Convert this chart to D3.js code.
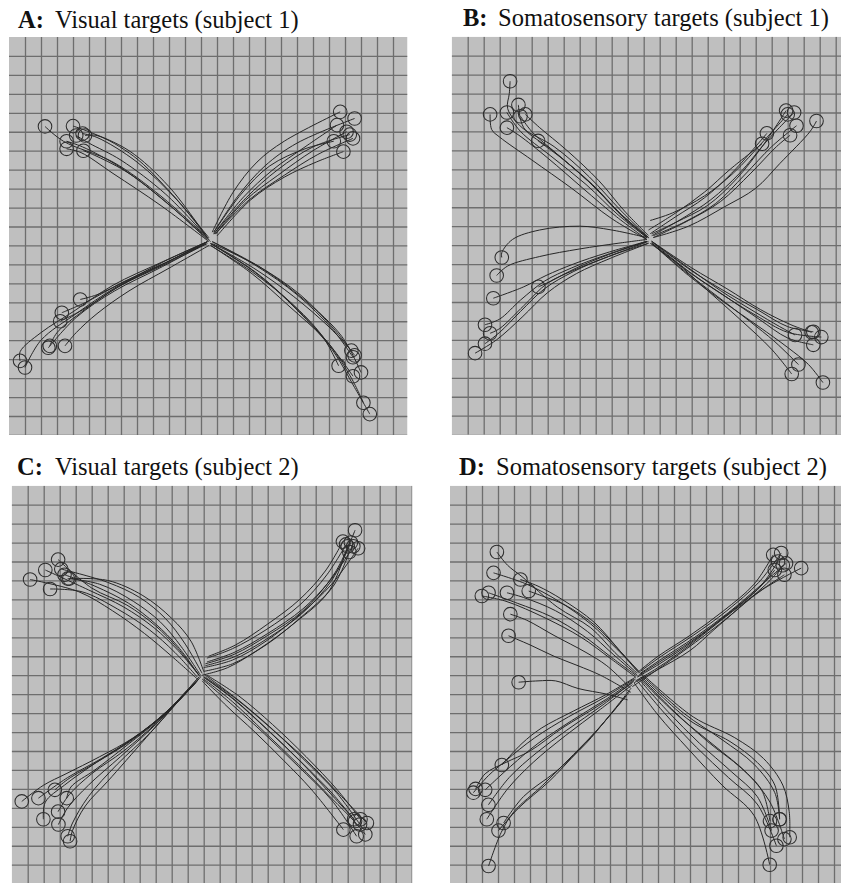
<!DOCTYPE html>
<html><head><meta charset="utf-8">
<script src="https://cdn.jsdelivr.net/npm/d3@7/dist/d3.min.js"></script>
<style>
html,body{margin:0;padding:0;background:#fff;}
svg{display:block;}
</style></head>
<body>
<svg id="chart" width="841" height="883"></svg>
<script>
// ---- Data (grid units: x = columns from left edge, y = rows from top edge) ----
const panelLetters = ["A:", "B:", "C:", "D:"];
const panelTitles = ["Visual targets (subject 1)", "Somatosensory targets (subject 1)",
                     "Visual targets (subject 2)", "Somatosensory targets (subject 2)"];

// Panel A trajectories (centre -> target, last point = target circle)
const trialsA = [
  // upper-left
  [[12.5,10.7],[10.5,8.6],[8.0,6.6],[5.5,5.3],[4.6,5.1]],
  [[12.4,10.6],[10.0,7.9],[7.5,6.0],[5.0,5.0],[4.0,4.7]],
  [[12.3,10.5],[9.8,8.3],[7.0,6.5],[5.0,5.6],[4.2,5.2]],
  [[12.5,10.8],[9.5,8.9],[6.5,7.2],[4.5,6.1],[3.6,5.9]],
  [[12.4,10.7],[9.8,8.7],[7.0,6.9],[4.6,5.8],[3.6,5.5]],
  [[12.6,10.8],[10.2,9.0],[7.5,7.2],[5.5,6.3],[4.65,6.0]],
  [[12.5,10.6],[10.2,8.3],[7.8,6.3],[5.5,5.2],[4.75,5.2]],
  [[12.4,10.6],[9.5,8.4],[6.5,6.6],[3.4,5.5],[2.25,4.72]],
  // upper-right
  [[12.7,10.3],[14.0,8.2],[15.5,6.6],[17.2,5.5],[20.7,3.95]],
  [[12.8,10.3],[14.3,8.4],[16.0,6.8],[18.0,5.6],[21.6,4.3]],
  [[12.8,10.4],[14.6,8.5],[16.5,7.0],[18.5,5.8],[20.5,4.65]],
  [[12.9,10.4],[14.8,8.6],[16.8,7.3],[19.0,6.0],[21.1,5.0]],
  [[12.9,10.4],[15.0,8.6],[17.2,7.3],[19.3,6.2],[21.5,5.35]],
  [[13.0,10.5],[15.1,8.6],[17.2,7.4],[19.2,6.6],[20.9,6.05]],
  [[12.8,10.3],[14.5,8.3],[16.3,6.8],[18.5,5.9],[20.3,5.5]],
  [[12.8,10.4],[14.8,8.5],[16.8,7.0],[19.0,5.8],[21.3,5.15]],
  // lower-left
  [[12.4,10.8],[9.8,11.8],[7.5,12.8],[5.5,13.6],[4.45,13.85]],
  [[12.4,10.8],[9.8,11.9],[7.2,12.9],[4.8,14.0],[3.3,14.55]],
  [[12.3,10.9],[9.6,12.0],[7.0,13.1],[4.6,14.4],[3.2,15.0]],
  [[12.4,10.9],[9.5,12.1],[6.8,13.2],[4.4,14.6],[3.0,15.6],[2.55,16.3]],
  [[12.3,10.9],[9.4,12.2],[6.6,13.4],[4.2,14.8],[2.46,16.4]],
  [[12.5,11.0],[10.0,12.2],[7.5,13.4],[5.5,14.6],[4.2,15.6],[3.5,16.3]],
  [[12.4,10.8],[9.5,11.9],[6.5,13.1],[4.0,14.5],[2.0,15.6],[0.7,16.6],[0.69,17.09]],
  [[12.4,10.8],[9.6,12.0],[6.7,13.2],[4.2,14.6],[2.0,16.0],[1.0,17.44]],
  // lower-right
  [[12.6,10.9],[15.3,12.2],[17.8,13.7],[20.0,15.3],[21.4,16.55]],
  [[12.7,10.9],[15.6,12.1],[18.2,13.6],[20.3,15.4],[21.6,16.8]],
  [[12.6,11.0],[15.2,12.4],[17.6,14.0],[19.6,15.8],[20.6,17.35]],
  [[12.7,10.8],[15.8,12.2],[18.5,13.9],[20.8,15.8],[22.0,17.7]],
  [[12.6,11.0],[15.2,12.5],[17.5,14.2],[19.8,16.0],[21.5,17.9]],
  [[12.6,10.9],[15.4,12.4],[17.8,14.2],[20.0,16.2],[21.4,18.0],[22.15,19.3]],
  [[12.6,10.9],[15.5,12.5],[18.0,14.4],[20.2,16.5],[21.6,18.5],[22.55,19.9]],
  [[12.7,10.8],[15.5,12.1],[18.0,13.6],[20.2,15.4],[21.5,16.9]]
];

const trialsB = [
  // upper-left
  [[12.3,10.6],[10.8,9.6],[9.0,8.0],[7.0,6.5],[5.4,5.5]],
  [[12.2,10.6],[10.5,9.3],[8.8,7.8],[6.6,6.2],[5.0,5.0],[4.3,4.2]],
  [[12.3,10.5],[10.8,9.2],[9.2,7.6],[7.2,6.0],[5.5,4.8],[4.6,4.1]],
  [[12.2,10.7],[10.3,9.5],[8.2,8.0],[6.0,6.4],[4.2,5.2],[3.45,4.8]],
  [[12.3,10.6],[10.5,9.3],[8.5,7.6],[6.3,6.0],[4.5,4.8],[4.17,3.6]],
  [[12.2,10.7],[10.0,9.6],[7.5,8.0],[5.0,6.5],[3.0,5.3],[2.5,4.9],[2.4,4.1]],
  [[12.3,10.6],[10.6,9.2],[8.6,7.4],[6.4,5.8],[4.4,4.8],[3.5,3.8],[3.6,3.0],[3.65,2.35]],
  [[12.2,10.6],[10.4,9.4],[8.4,7.8],[6.2,6.3],[4.3,5.0],[3.45,4.0]],
  // upper-right
  [[12.5,10.4],[14.0,9.8],[16.0,8.9],[17.8,7.5],[19.4,5.8],[20.9,3.9]],
  [[12.5,10.5],[14.2,9.7],[16.2,8.6],[18.0,7.2],[19.7,5.5],[21.4,4.0]],
  [[12.6,10.5],[14.5,9.8],[16.5,8.8],[18.3,7.3],[20.0,5.8],[21.55,4.7]],
  [[12.4,10.4],[14.0,9.5],[15.8,8.5],[17.5,7.2],[19.7,5.1]],
  [[12.3,10.2],[14.0,9.3],[15.8,8.2],[17.4,7.0],[19.4,5.65]],
  [[12.6,10.6],[14.8,9.7],[16.8,8.7],[18.7,7.2],[20.3,5.8],[21.15,5.2]],
  [[12.6,10.6],[14.8,10.0],[17.0,9.0],[19.0,8.0],[20.5,6.7],[22.4,5.0],[22.8,4.45]],
  [[12.4,9.7],[13.8,9.3],[15.8,8.4],[17.6,7.2],[19.5,5.5],[21.0,4.1]],
  // lower-left
  [[12.2,10.6],[10.0,10.2],[8.0,10.0],[5.5,10.2],[3.8,10.7],[3.13,11.4],[3.13,11.65]],
  [[12.2,10.7],[10.4,10.9],[8.0,11.2],[5.5,11.6],[3.5,12.1],[2.81,12.6]],
  [[12.2,10.8],[9.7,11.4],[7.6,12.0],[5.9,12.6],[4.5,13.2],[2.6,13.8]],
  [[12.2,10.8],[9.8,11.5],[7.8,12.2],[6.2,12.9],[5.42,13.2]],
  [[12.2,10.8],[9.7,11.5],[7.5,12.2],[5.8,12.9],[4.3,13.9],[3.0,14.9],[2.08,15.2]],
  [[12.3,10.8],[9.8,11.6],[7.7,12.3],[6.0,13.0],[4.5,14.2],[3.0,15.4],[2.4,15.65]],
  [[12.3,10.9],[9.8,11.6],[7.6,12.4],[5.8,13.3],[4.3,14.5],[3.0,15.6],[2.08,16.2]],
  [[12.3,10.9],[9.9,11.7],[7.8,12.5],[6.0,13.5],[4.4,14.8],[2.8,16.0],[1.46,16.7]],
  // lower-right
  [[12.5,10.8],[14.9,12.3],[17.0,13.4],[19.1,14.4],[21.0,15.3],[22.6,15.57]],
  [[12.5,10.9],[14.8,12.4],[16.9,13.6],[19.0,14.7],[21.0,15.6],[23.1,15.85]],
  [[12.6,10.9],[15.0,12.5],[17.1,13.7],[19.2,14.9],[21.0,15.9],[22.6,16.26]],
  [[12.5,10.8],[14.8,12.2],[16.8,13.4],[18.9,14.5],[20.5,15.3],[21.46,15.74]],
  [[12.5,10.9],[14.6,12.4],[16.6,13.7],[18.6,15.0],[20.2,16.1],[21.67,17.3]],
  [[12.4,10.9],[14.0,11.9],[16.0,13.4],[18.0,14.9],[20.0,16.5],[21.25,17.8]],
  [[12.5,10.9],[14.8,12.6],[17.0,14.0],[19.2,15.3],[21.0,16.4],[22.3,17.3],[23.2,18.25]],
  [[12.5,10.8],[15.0,12.2],[17.2,13.3],[19.3,14.4],[21.2,15.2],[22.5,15.6]]
];

const trialsC = [
  // upper-left
  [[11.8,10.0],[10.6,8.5],[9.3,7.2],[7.6,6.1],[5.5,5.2],[3.5,4.9]],
  [[11.9,9.9],[10.8,8.3],[9.6,7.0],[8.0,5.9],[6.0,5.1],[3.1,4.4]],
  [[11.7,10.0],[10.4,8.6],[9.0,7.4],[7.2,6.3],[5.0,5.4],[2.9,3.9]],
  [[11.6,10.1],[10.2,8.8],[8.6,7.6],[6.6,6.5],[4.4,5.6],[2.4,5.45]],
  [[11.8,10.1],[10.4,8.7],[8.9,7.5],[7.0,6.4],[4.8,5.5],[2.1,4.45]],
  [[11.6,10.2],[10.0,9.0],[8.3,7.8],[6.3,6.6],[4.2,5.6],[1.15,4.95]],
  [[12.0,9.8],[11.2,8.2],[10.0,7.0],[8.2,5.8],[6.0,5.0],[3.6,4.9]],
  [[11.7,10.0],[10.4,8.5],[9.0,7.3],[7.3,6.2],[5.2,5.3],[3.3,4.7]],
  // upper-right
  [[12.2,9.1],[13.8,8.6],[15.9,7.6],[18.0,6.3],[19.7,4.7],[20.9,3.1]],
  [[12.2,9.3],[13.9,8.8],[16.0,7.8],[18.2,6.5],[19.9,5.0],[21.35,3.2]],
  [[12.0,9.6],[13.8,9.2],[15.9,8.2],[18.0,6.8],[20.0,5.2],[21.65,3.3]],
  [[12.0,9.8],[13.8,9.4],[15.9,8.4],[18.0,7.0],[20.1,5.3],[21.1,3.5]],
  [[12.3,9.0],[14.0,8.4],[16.0,7.3],[18.0,6.0],[19.6,4.5],[20.7,2.95]],
  [[12.1,9.4],[13.9,8.9],[16.0,7.9],[18.2,6.6],[20.2,4.6],[21.46,2.35]],
  [[11.9,10.0],[13.5,9.6],[15.5,8.6],[17.6,7.3],[19.8,5.6],[21.0,3.2]],
  [[12.1,9.5],[14.0,9.0],[16.1,8.0],[18.2,6.7],[20.0,5.0],[21.2,3.0]],
  // lower-left
  [[11.7,10.1],[9.7,11.9],[7.6,13.3],[5.5,14.3],[3.4,15.2],[2.0,15.8],[0.63,16.66]],
  [[11.8,10.1],[9.9,11.8],[7.8,13.2],[5.6,14.4],[3.5,15.4],[1.67,16.49]],
  [[11.7,10.2],[9.6,12.0],[7.4,13.5],[5.3,14.6],[3.5,15.5],[2.7,16.05]],
  [[11.6,10.3],[9.4,12.2],[7.2,13.7],[5.2,15.0],[3.7,15.9],[3.44,16.49]],
  [[11.7,10.1],[9.7,11.9],[7.5,13.4],[5.3,14.6],[3.3,15.8],[2.1,16.7],[1.98,17.6]],
  [[11.5,10.4],[9.2,12.4],[7.0,14.0],[5.0,15.2],[3.6,16.3],[2.9,17.2]],
  [[11.4,10.5],[9.0,12.6],[6.8,14.3],[4.8,15.8],[3.5,17.0],[2.92,17.88]],
  [[11.2,10.6],[8.7,13.0],[6.6,14.7],[4.8,16.4],[3.8,17.8],[3.5,18.5]],
  [[11.0,10.8],[8.4,13.3],[6.0,15.6],[4.6,16.9],[3.8,18.2],[3.65,18.76]],
  // lower-right
  [[12.0,10.1],[13.8,11.2],[15.9,12.8],[18.0,14.5],[20.1,16.3],[21.46,17.7]],
  [[12.1,10.0],[14.0,11.2],[16.1,12.7],[18.2,14.4],[20.3,16.2],[21.77,17.88]],
  [[12.0,10.2],[13.8,11.4],[15.8,13.0],[17.9,14.7],[20.0,16.5],[21.4,17.7],[22.1,18.4]],
  [[11.9,10.2],[13.7,11.5],[15.8,13.1],[17.9,14.8],[20.0,16.6],[21.56,18.5]],
  [[12.1,10.1],[14.1,11.3],[16.2,12.8],[18.3,14.4],[20.5,16.3],[22.2,17.8]],
  [[11.9,10.3],[13.4,11.6],[15.2,13.0],[17.0,14.5],[18.7,16.0],[20.73,18.15]],
  [[12.0,10.1],[13.9,11.3],[16.0,12.9],[18.1,14.6],[20.2,16.5],[21.4,17.6]],
  [[12.2,10.0],[14.2,11.1],[16.3,12.6],[18.4,14.3],[20.4,16.1],[21.8,17.6]]
];

const trialsD = [
  // upper-left
  [[11.7,9.9],[10.3,8.8],[8.8,7.5],[6.7,6.4],[4.5,4.8],[3.6,4.2],[2.93,3.5]],
  [[11.8,9.8],[10.4,8.6],[8.8,7.3],[6.8,6.1],[4.8,5.2],[2.72,4.6]],
  [[11.8,9.9],[10.5,8.6],[9.0,7.2],[7.0,6.0],[5.5,5.3],[4.4,4.95]],
  [[11.9,9.9],[10.6,8.7],[9.1,7.4],[7.2,6.3],[5.7,5.8],[4.92,5.56]],
  [[11.7,10.0],[10.2,8.9],[8.6,7.7],[6.6,6.6],[4.6,5.9],[3.56,5.65]],
  [[11.6,10.0],[10.0,9.0],[8.3,7.9],[6.3,6.9],[4.2,6.2],[2.41,5.65]],
  [[11.6,10.1],[10.0,9.1],[8.2,8.0],[6.0,7.0],[3.5,6.1],[1.99,5.82]],
  [[11.3,10.7],[9.8,9.5],[8.5,8.8],[6.5,7.9],[4.8,7.1],[3.77,6.78]],
  [[11.3,10.9],[9.4,10.0],[8.0,9.5],[6.5,9.0],[5.0,8.4],[3.66,7.92]],
  [[11.1,11.3],[9.8,11.0],[8.0,10.7],[6.6,10.3],[5.5,10.3],[4.29,10.37]],
  // upper-right
  [[11.8,9.8],[13.0,9.0],[15.0,7.9],[17.1,6.6],[19.0,5.2],[20.2,3.65]],
  [[11.9,9.8],[13.2,9.0],[15.2,7.9],[17.3,6.6],[19.3,5.1],[20.7,3.55]],
  [[11.9,9.9],[13.3,9.1],[15.3,8.0],[17.4,6.7],[19.5,5.2],[21.0,4.1]],
  [[11.8,10.0],[13.1,9.3],[15.1,8.2],[17.2,6.9],[19.2,5.5],[20.3,4.45]],
  [[11.6,10.3],[13.0,9.6],[15.0,8.4],[17.1,7.0],[19.3,5.6],[20.9,4.7]],
  [[11.4,10.6],[12.8,9.8],[14.8,8.6],[17.0,7.2],[19.5,5.5],[21.95,4.35]],
  [[11.7,10.1],[13.1,9.4],[15.2,8.2],[17.3,6.8],[19.4,5.3],[20.5,4.0]],
  [[11.5,10.4],[13.0,9.7],[15.0,8.7],[16.5,7.6],[18.0,6.5],[20.0,5.0],[20.8,4.2]],
  // lower-left
  [[11.6,10.1],[9.8,11.0],[7.7,11.9],[5.7,12.8],[4.5,13.6],[3.24,14.74]],
  [[11.5,10.2],[9.6,11.2],[7.4,12.2],[5.3,13.3],[3.5,14.5],[2.4,15.3],[1.46,16.2]],
  [[11.6,10.2],[9.7,11.3],[7.6,12.4],[5.5,13.6],[3.8,14.8],[2.2,16.05]],
  [[11.5,10.3],[9.5,11.6],[7.3,12.9],[5.4,14.1],[3.7,15.4],[2.4,16.84]],
  [[11.4,10.5],[9.4,11.8],[7.2,13.2],[5.2,14.6],[3.6,16.0],[2.3,17.6]],
  [[11.3,10.7],[9.8,12.3],[8.5,13.6],[6.6,15.1],[4.6,16.4],[3.35,17.8]],
  [[11.2,10.9],[9.5,12.6],[8.0,14.0],[6.2,15.6],[4.3,17.0],[3.03,18.2]],
  [[11.0,11.1],[9.3,12.8],[7.7,14.2],[5.8,15.8],[4.0,17.2],[3.2,18.3],[2.41,20.07]],
  [[11.4,10.4],[9.3,11.6],[7.0,12.8],[5.0,14.0],[3.5,14.6],[2.2,15.2],[1.6,16.0]],
  // lower-right
  [[11.9,10.1],[14.0,11.9],[16.1,13.5],[18.2,14.9],[19.5,16.1],[20.0,17.7]],
  [[12.0,10.1],[15.0,12.4],[17.5,13.5],[19.2,14.6],[20.3,15.8],[20.6,17.6]],
  [[12.1,10.0],[15.2,12.2],[17.8,13.3],[19.6,14.4],[20.8,15.8],[21.2,17.2],[21.23,18.55]],
  [[11.8,10.2],[13.6,11.9],[15.6,13.6],[17.6,15.1],[19.2,16.4],[20.1,18.2]],
  [[11.7,10.3],[13.4,12.0],[15.4,13.8],[17.4,15.4],[19.2,16.8],[20.4,19.0]],
  [[11.5,10.4],[13.0,12.1],[14.9,13.9],[17.0,15.8],[19.0,17.4],[19.98,20.0]],
  [[11.9,10.2],[14.2,12.1],[16.5,13.7],[18.6,15.2],[20.0,16.7],[20.9,18.65]],
  [[12.0,10.0],[14.6,12.0],[17.0,13.4],[19.0,14.7],[20.3,16.2],[20.6,17.6]]
];

const allTrials = [trialsA, trialsB, trialsC, trialsD];

// ---- Layout ----
const layout = [
  {x: 9,     y: 37,    w: 398.5, h: 398, tx: 18,  ty: 28,  gap: 37},
  {x: 451.7, y: 36.7,  w: 400,   h: 398, tx: 463, ty: 26,  gap: 35},
  {x: 11.7,  y: 485.7, w: 400.5, h: 400, tx: 17,  ty: 475, gap: 38},
  {x: 450,   y: 485.7, w: 400,   h: 400, tx: 459, ty: 475, gap: 37}
];
const cellW = 16, cellH = 18.95;

const svg = d3.select("#chart");
const defs = svg.append("defs");

layout.forEach((L, i) => {
  const xs = d3.scaleLinear().domain([0, L.w / cellW]).range([L.x, L.x + L.w]);
  const ys = d3.scaleLinear().domain([0, L.h / cellH]).range([L.y, L.y + L.h]);

  defs.append("clipPath").attr("id", "clip" + i)
    .append("rect").attr("x", L.x).attr("y", L.y).attr("width", L.w).attr("height", L.h);

  const g = svg.append("g").attr("clip-path", `url(#clip${i})`);
  g.append("rect").attr("x", L.x).attr("y", L.y).attr("width", L.w).attr("height", L.h)
    .attr("fill", "#bfbfbf");

  const xt = d3.range(1, Math.floor(L.w / cellW) + 1);
  const yt = d3.range(1, Math.floor(L.h / cellH) + 1);
  g.append("g").attr("transform", `translate(0,${L.y + L.h})`)
    .call(d3.axisBottom(xs).tickValues(xt).tickSizeInner(-L.h).tickSizeOuter(0).tickFormat(""))
    .call(s => s.select(".domain").remove())
    .call(s => s.selectAll("line").attr("stroke", "#6e6e6e").attr("stroke-width", 1.3));
  g.append("g").attr("transform", `translate(${L.x},0)`)
    .call(d3.axisLeft(ys).tickValues(yt).tickSizeInner(-L.w).tickSizeOuter(0).tickFormat(""))
    .call(s => s.select(".domain").remove())
    .call(s => s.selectAll("line").attr("stroke", "#6e6e6e").attr("stroke-width", 1.3));

  const line = d3.line().x(d => xs(d[0])).y(d => ys(d[1])).curve(d3.curveCatmullRom.alpha(0.5));
  const trials = allTrials[i];
  g.append("g").selectAll("path").data(trials).join("path")
    .attr("d", line).attr("fill", "none").attr("stroke", "#262626").attr("stroke-width", 1);
  g.append("g").selectAll("circle").data(trials).join("circle")
    .attr("cx", d => xs(d[d.length - 1][0])).attr("cy", d => ys(d[d.length - 1][1]))
    .attr("r", 6.8).attr("fill", "none").attr("stroke", "#2e2e2e").attr("stroke-width", 1.05);

  const t = svg.append("text").attr("x", L.tx).attr("y", L.ty)
    .attr("font-family", "'Liberation Serif', 'Times New Roman', serif").attr("font-size", 24.5)
    .attr("fill", "#111");
  t.append("tspan").attr("font-weight", "bold").text(panelLetters[i]);
  t.append("tspan").attr("x", L.tx + L.gap).text(panelTitles[i]);
});
</script>
</body></html>
